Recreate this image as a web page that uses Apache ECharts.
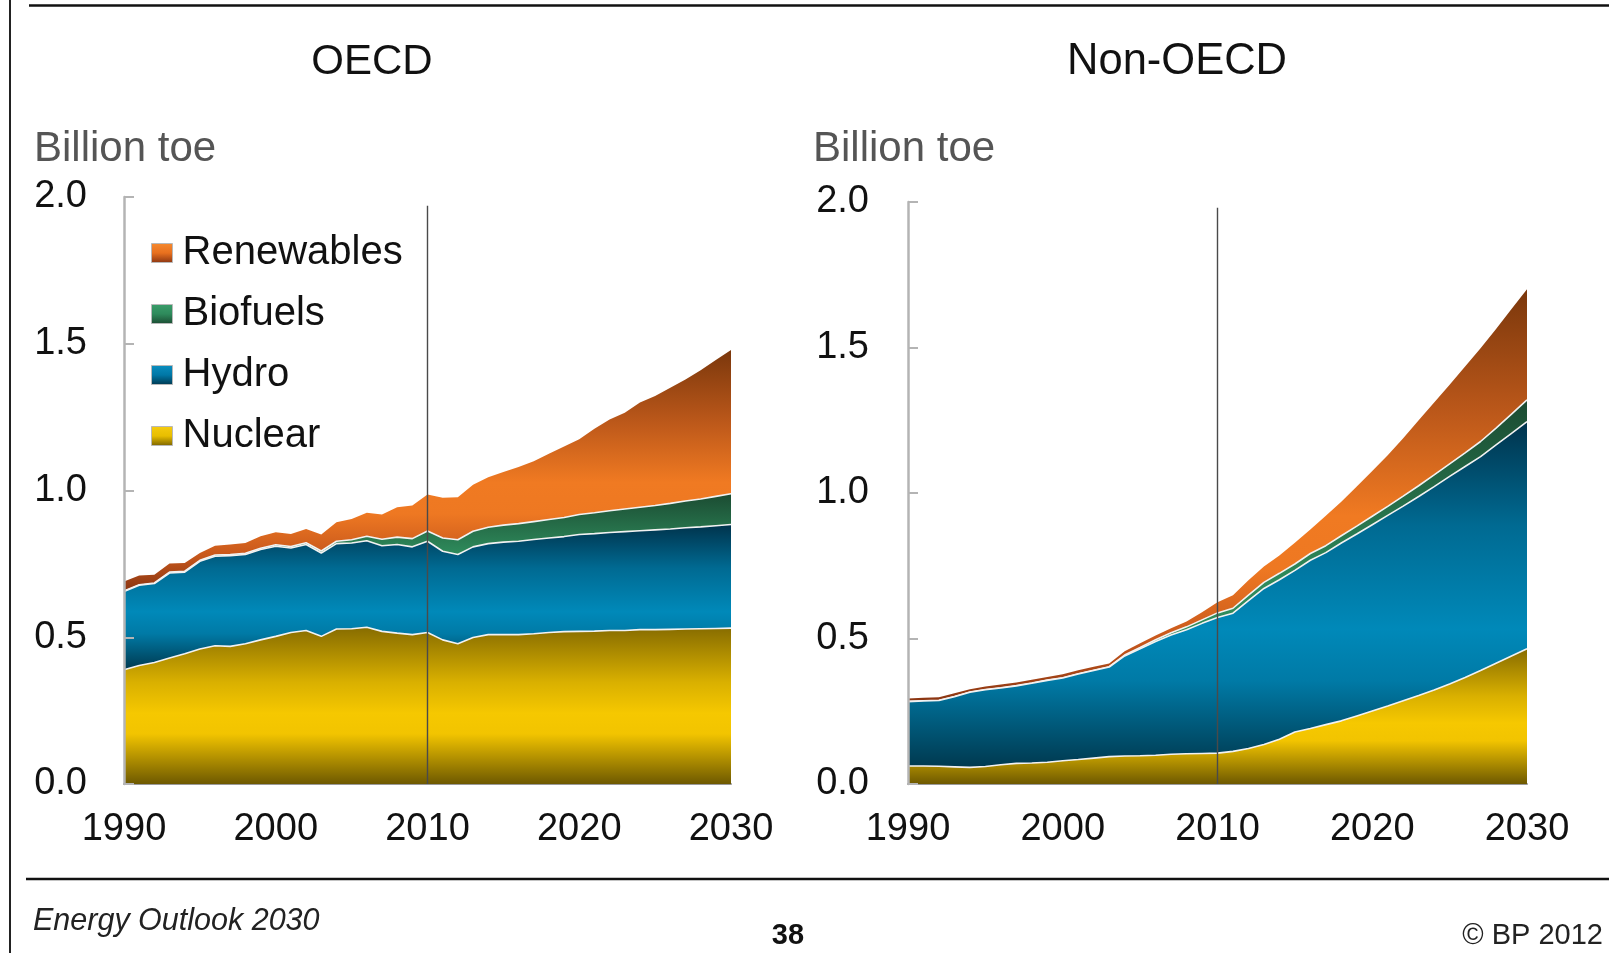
<!DOCTYPE html>
<html>
<head>
<meta charset="utf-8">
<title>Nuclear, hydro and renewables: OECD vs Non-OECD</title>
<script src="https://cdn.jsdelivr.net/npm/echarts@6/dist/echarts.min.js"></script>
<style>
  html, body { margin: 0; padding: 0; background: #fff; }
  #chart { width: 1609px; height: 953px; }
</style>
</head>
<body>
<div id="chart"></div>
<script>
// ---- data (billion toe) ----
const years = [];
for (let y = 1990; y <= 2030; y++) years.push(String(y));

const seriesNames = ['Nuclear', 'Hydro', 'Biofuels', 'Renewables'];
const legendOrder = ['Renewables', 'Biofuels', 'Hydro', 'Nuclear'];
const yTicks = [0, 0.5, 1.0, 1.5, 2.0];
const xLabelStep = 10;          // a year label every decade
const projectionStart = '2010';
const dividerTopOecd = 1.97;
const dividerTopNon = 1.98;

const oecdNuclear = [
  0.389,0.404,0.414,0.429,0.444,0.460,0.471,0.469,0.478,0.491,
  0.503,0.516,0.523,0.503,0.528,0.529,0.534,0.520,0.514,0.509,
  0.516,0.491,0.478,0.499,0.509,0.509,0.509,0.512,0.516,0.519,
  0.520,0.521,0.523,0.523,0.526,0.526,0.527,0.528,0.529,0.530,
  0.531];
const oecdHydro = [
  0.267,0.273,0.269,0.290,0.278,0.299,0.305,0.309,0.304,0.308,
  0.307,0.288,0.293,0.284,0.291,0.292,0.295,0.292,0.302,0.299,
  0.311,0.302,0.304,0.309,0.310,0.315,0.318,0.321,0.322,0.324,
  0.330,0.332,0.334,0.337,0.337,0.340,0.342,0.345,0.347,0.350,
  0.353];
const oecdBiofuels = [
  0.002,0.002,0.002,0.003,0.003,0.003,0.004,0.004,0.004,0.004,
  0.005,0.005,0.006,0.007,0.008,0.011,0.015,0.022,0.025,0.028,
  0.035,0.045,0.050,0.053,0.056,0.058,0.060,0.061,0.063,0.065,
  0.068,0.071,0.074,0.077,0.080,0.083,0.087,0.091,0.095,0.100,
  0.105];
const oecdRenewables = [
  0.032,0.031,0.028,0.029,0.028,0.025,0.032,0.034,0.035,0.041,
  0.043,0.043,0.047,0.056,0.065,0.071,0.080,0.084,0.102,0.113,
  0.124,0.137,0.145,0.159,0.170,0.181,0.193,0.206,0.224,0.242,
  0.257,0.286,0.311,0.328,0.357,0.373,0.394,0.414,0.439,0.465,
  0.490];

const nonNuclear = [
  0.062,0.062,0.061,0.059,0.057,0.060,0.066,0.071,0.072,0.075,
  0.080,0.084,0.089,0.094,0.096,0.097,0.099,0.102,0.104,0.105,
  0.106,0.112,0.122,0.136,0.154,0.179,0.191,0.204,0.217,0.234,
  0.251,0.268,0.286,0.304,0.323,0.344,0.366,0.390,0.415,0.440,
  0.465];
const nonHydro = [
  0.221,0.223,0.226,0.241,0.258,0.264,0.264,0.266,0.274,0.281,
  0.284,0.294,0.301,0.308,0.344,0.368,0.391,0.410,0.426,0.447,
  0.466,0.475,0.508,0.536,0.548,0.555,0.578,0.591,0.611,0.625,
  0.640,0.655,0.669,0.684,0.699,0.713,0.725,0.735,0.750,0.765,
  0.780];
const nonBiofuels = [
  0.001,0.001,0.001,0.001,0.001,0.001,0.001,0.001,0.001,0.001,
  0.001,0.001,0.001,0.001,0.003,0.004,0.006,0.008,0.010,0.012,
  0.016,0.017,0.019,0.021,0.022,0.022,0.023,0.024,0.025,0.027,
  0.029,0.031,0.034,0.037,0.040,0.043,0.047,0.052,0.058,0.066,
  0.075];
const nonRenewables = [
  0.010,0.010,0.010,0.011,0.010,0.010,0.011,0.011,0.011,0.011,
  0.012,0.012,0.012,0.011,0.013,0.015,0.014,0.015,0.018,0.026,
  0.037,0.045,0.051,0.054,0.061,0.073,0.083,0.103,0.117,0.136,
  0.156,0.176,0.199,0.225,0.249,0.272,0.297,0.320,0.341,0.361,
  0.380];

// ---- styling ----
const FONT = '"Liberation Sans", Arial, Helvetica, sans-serif';

function vGrad(stops) {
  return new echarts.graphic.LinearGradient(0, 0, 0, 1,
    stops.map(s => ({ offset: s[0], color: s[1] })));
}
const fills = {
  Nuclear: vGrad([[0, '#876c00'], [0.35, '#d9b000'], [0.55, '#f6c800'], [0.68, '#f2c400'], [1, '#6e5900']]),
  Hydro: vGrad([[0, '#00334c'], [0.3, '#006a92'], [0.6, '#0089b9'], [0.75, '#007aa6'], [1, '#00394f']]),
  Biofuels: vGrad([[0, '#1b4b32'], [0.6, '#2e8a5b'], [1, '#30905f']]),
  Renewables: vGrad([[0, '#7a370c'], [0.3, '#bc581a'], [0.55, '#f07a22'], [0.68, '#ee7822'], [0.85, '#c8581c'], [1, '#8a3512']])
};
const legendFills = {
  Nuclear: vGrad([[0, '#f6cc10'], [0.5, '#e8be00'], [1, '#7a6200']]),
  Hydro: vGrad([[0, '#0a8fc0'], [0.5, '#0077a6'], [1, '#00384f']]),
  Biofuels: vGrad([[0, '#3a9e6a'], [0.5, '#2e8a5b'], [1, '#1b4b32']]),
  Renewables: vGrad([[0, '#f58a30'], [0.5, '#e8701e'], [1, '#8a3512']])
};

function stackSeries(gridIdx, stackId, valueSets) {
  return seriesNames.map((name, k) => ({
    name: name,
    type: 'line',
    xAxisIndex: gridIdx,
    yAxisIndex: gridIdx,
    stack: stackId,
    symbol: 'none',
    smooth: false,
    z: 6 - k,
    lineStyle: name === 'Renewables'
      ? { width: 0 }
      : { color: '#f2f2f2', width: 1.6 },
    itemStyle: { color: legendFills[name] },
    areaStyle: { color: fills[name], opacity: 1 },
    emphasis: { disabled: true },
    data: valueSets[k]
  }));
}

// thin vertical rule marking where the projection begins
function divider(gridIdx, top) {
  return {
    name: 'divider' + gridIdx,
    type: 'line',
    xAxisIndex: gridIdx,
    yAxisIndex: gridIdx,
    symbol: 'none',
    z: 20,
    silent: true,
    lineStyle: { color: '#4a4a4a', width: 1.4 },
    data: [[projectionStart, 0], [projectionStart, top]]
  };
}

function xAxisFor(gridIdx) {
  return {
    type: 'category', gridIndex: gridIdx,
    data: years, boundaryGap: false,
    axisLine: { show: true, lineStyle: { color: '#9a9a9a', width: 2 } },
    axisTick: { show: false },
    splitLine: { show: false },
    axisLabel: { show: true, interval: xLabelStep - 1, margin: 27,
      fontFamily: FONT, fontSize: 38, color: '#111' }
  };
}
function yAxisFor(gridIdx, margin) {
  return {
    type: 'value', gridIndex: gridIdx,
    min: yTicks[0], max: yTicks[yTicks.length - 1], interval: 0.5,
    z: 10,
    axisLine: { show: true, lineStyle: { color: '#b4b4b4', width: 2.5 } },
    axisTick: { show: true, inside: true, length: 10, lineStyle: { color: '#b4b4b4', width: 2 } },
    splitLine: { show: false },
    axisLabel: { margin: margin, fontFamily: FONT, fontSize: 38, color: '#111',
      formatter: v => v.toFixed(1) }
  };
}

function txt(x, y, text, font, fill, align) {
  return { type: 'text', x: x, y: y, silent: true,
    style: { text: text, font: font, fill: fill, align: align || 'left', verticalAlign: 'middle' } };
}
function rule(x1, y1, x2, y2, w, c) {
  return { type: 'line', silent: true, shape: { x1: x1, y1: y1, x2: x2, y2: y2 },
    style: { stroke: c, lineWidth: w } };
}

const chart = echarts.init(document.getElementById('chart'), null, { renderer: 'canvas' });
chart.setOption({
  animation: false,
  backgroundColor: '#ffffff',
  grid: [
    { left: 124, top: 197, width: 607, height: 587 },
    { left: 908, top: 202, width: 619, height: 582 }
  ],
  xAxis: [xAxisFor(0), xAxisFor(1)],
  yAxis: [yAxisFor(0, 37), yAxisFor(1, 39)],
  legend: {
    orient: 'vertical',
    left: 151, top: 233, padding: 0,
    itemWidth: 21, itemHeight: 19, itemGap: 21,
    selectedMode: false,
    textStyle: { fontFamily: FONT, fontSize: 40, color: '#111', padding: [0, 0, 0, 5] },
    data: legendOrder.map(n => ({
      name: n, icon: 'rect',
      itemStyle: { color: legendFills[n], borderColor: '#b8b8b8', borderWidth: 1 },
      lineStyle: { width: 0 }
    }))
  },
  series: [].concat(
    stackSeries(0, 'oecd', [oecdNuclear, oecdHydro, oecdBiofuels, oecdRenewables]),
    stackSeries(1, 'nonoecd', [nonNuclear, nonHydro, nonBiofuels, nonRenewables]),
    [divider(0, dividerTopOecd), divider(1, dividerTopNon)]
  ),
  graphic: [
    rule(29, 5.5, 1609, 5.5, 2.5, '#111'),
    rule(10, 0, 10, 953, 2, '#222'),
    rule(26, 879, 1609, 879, 2.5, '#111'),
    txt(372, 62, 'OECD', '42px ' + FONT, '#111', 'center'),
    txt(1177, 62, 'Non-OECD', '43.5px ' + FONT, '#111', 'center'),
    txt(34, 149, 'Billion toe', '42px ' + FONT, '#555', 'left'),
    txt(813, 149, 'Billion toe', '42px ' + FONT, '#555', 'left'),
    txt(33, 922, 'Energy Outlook 2030', 'italic 30.5px ' + FONT, '#222', 'left'),
    txt(788, 936, '38', 'bold 29px ' + FONT, '#111', 'center'),
    txt(1603, 936, '\u00A9 BP 2012', '29px ' + FONT, '#222', 'right')
  ]
});
</script>
</body>
</html>
